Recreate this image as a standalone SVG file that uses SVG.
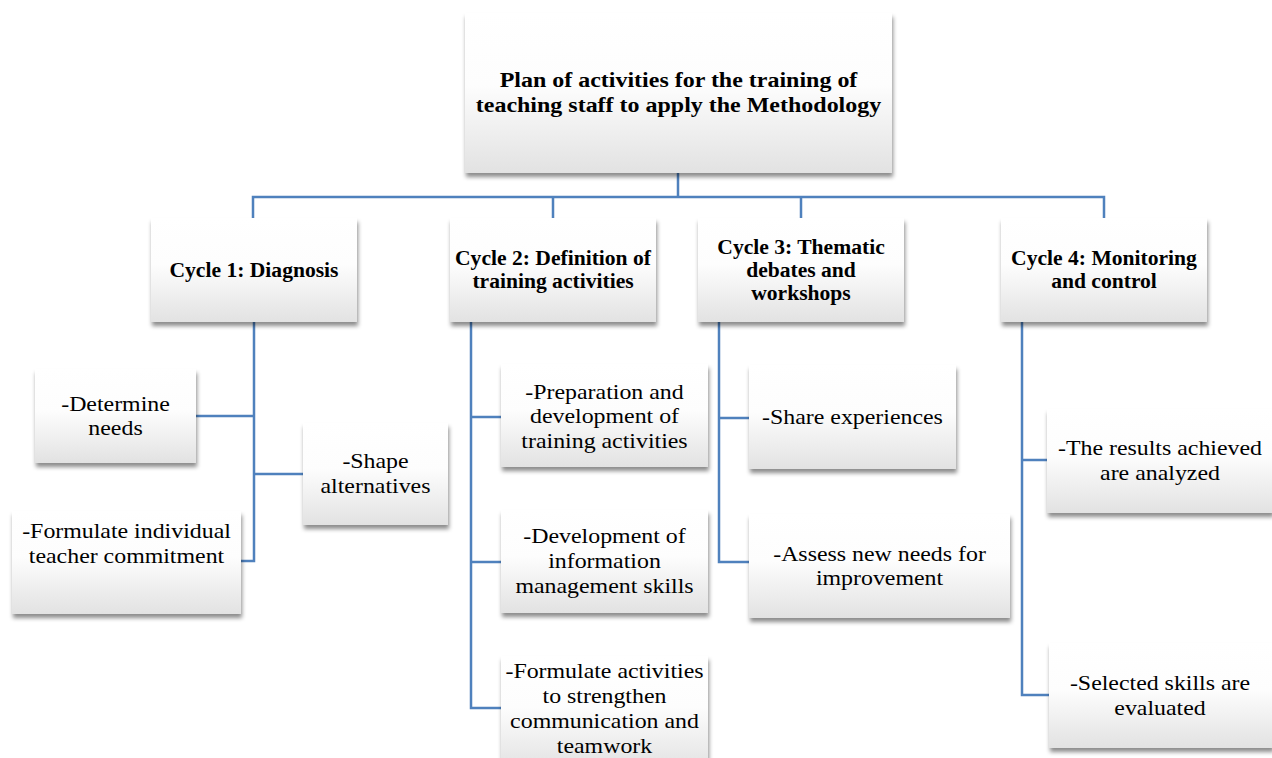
<svg xmlns="http://www.w3.org/2000/svg" width="1272" height="758" viewBox="0 0 1272 758">
<defs>
<linearGradient id="g" x1="0" y1="0" x2="0" y2="1">
<stop offset="0" stop-color="#ffffff"/>
<stop offset="0.45" stop-color="#fdfdfd"/>
<stop offset="1" stop-color="#e2e2e2"/>
</linearGradient>
<filter id="sh" x="-10%" y="-10%" width="120%" height="130%">
<feDropShadow dx="1" dy="4" stdDeviation="2.2" flood-color="#000" flood-opacity="0.45"/>
</filter>
</defs>
<style>
.box{fill:url(#g);filter:url(#sh)}
text{font-family:'Liberation Serif','Times New Roman',serif;fill:#000;text-anchor:middle}
.t{font-size:22px}
.b{font-size:20px;font-weight:bold}
.h{font-size:22px;font-weight:bold}
.c{fill:none;stroke:#4f81bd;stroke-width:2.5}
</style>
<rect width="1272" height="758" fill="#fff"/>
<g id="connectors">
<path class="c" d="M678 173V197M253 218V197H1104V218M553 197V218M801 197V218"/>
<path class="c" d="M254 322V561H241M196 416H254M254 474H303"/>
<path class="c" d="M471 322V708H501M471 417H501M471 562H501"/>
<path class="c" d="M719 322V562H749M719 418H749"/>
<path class="c" d="M1022 322V695H1049M1022 460H1047"/>
</g>
<g id="root"><rect class="box" x="465" y="13" width="427" height="160"/>
<g transform="translate(678.5 0) scale(1.09 1)">
<text class="h" x="0" y="87">Plan of activities for the training of</text>
<text class="h" x="0" y="112">teaching staff to apply the Methodology</text></g></g>
<g id="cycle1"><rect class="box" x="151" y="218" width="206" height="104"/>
<g transform="translate(254 0) scale(1.08 1)">
<text class="b" x="0" y="277">Cycle 1: Diagnosis</text></g></g>
<g id="cycle2"><rect class="box" x="450" y="218" width="206" height="104"/>
<g transform="translate(553 0) scale(1.08 1)">
<text class="b" x="0" y="265">Cycle 2: Definition of</text>
<text class="b" x="0" y="288">training activities</text></g></g>
<g id="cycle3"><rect class="box" x="698" y="218" width="206" height="104"/>
<g transform="translate(801 0) scale(1.08 1)">
<text class="b" x="0" y="254">Cycle 3: Thematic</text>
<text class="b" x="0" y="277">debates and</text>
<text class="b" x="0" y="300">workshops</text></g></g>
<g id="cycle4"><rect class="box" x="1001" y="218" width="206" height="104"/>
<g transform="translate(1104 0) scale(1.08 1)">
<text class="b" x="0" y="265">Cycle 4: Monitoring</text>
<text class="b" x="0" y="288">and control</text></g></g>
<g id="determine"><rect class="box" x="35" y="369" width="161" height="94"/>
<g transform="translate(115.5 0) scale(1.085 1)">
<text class="t" x="0" y="411">-Determine</text>
<text class="t" x="0" y="435">needs</text></g></g>
<g id="shape"><rect class="box" x="303" y="423" width="145" height="102"/>
<g transform="translate(375.5 0) scale(1.085 1)">
<text class="t" x="0" y="468">-Shape</text>
<text class="t" x="0" y="493">alternatives</text></g></g>
<g id="formulate1"><rect class="box" x="12" y="511" width="229" height="103"/>
<g transform="translate(126.5 0) scale(1.085 1)">
<text class="t" x="0" y="538">-Formulate individual</text>
<text class="t" x="0" y="563">teacher commitment</text></g></g>
<g id="prep"><rect class="box" x="501" y="364" width="207" height="103"/>
<g transform="translate(604.5 0) scale(1.085 1)">
<text class="t" x="0" y="399">-Preparation and</text>
<text class="t" x="0" y="423">development of</text>
<text class="t" x="0" y="448">training activities</text></g></g>
<g id="devel"><rect class="box" x="501" y="510" width="207" height="103"/>
<g transform="translate(604.5 0) scale(1.085 1)">
<text class="t" x="0" y="543">-Development of</text>
<text class="t" x="0" y="568">information</text>
<text class="t" x="0" y="593">management skills</text></g></g>
<g id="formulate2"><rect class="box" x="501" y="656" width="207" height="114"/>
<g transform="translate(604.5 0) scale(1.085 1)">
<text class="t" x="0" y="678">-Formulate activities</text>
<text class="t" x="0" y="703">to strengthen</text>
<text class="t" x="0" y="728">communication and</text>
<text class="t" x="0" y="753">teamwork</text></g></g>
<g id="share"><rect class="box" x="749" y="365" width="207" height="104"/>
<g transform="translate(852.5 0) scale(1.085 1)">
<text class="t" x="0" y="424">-Share experiences</text></g></g>
<g id="assess"><rect class="box" x="749" y="514" width="261" height="104"/>
<g transform="translate(879.5 0) scale(1.085 1)">
<text class="t" x="0" y="561">-Assess new needs for</text>
<text class="t" x="0" y="585">improvement</text></g></g>
<g id="results"><rect class="box" x="1047" y="409" width="226" height="104"/>
<g transform="translate(1160 0) scale(1.085 1)">
<text class="t" x="0" y="455">-The results achieved</text>
<text class="t" x="0" y="480">are analyzed</text></g></g>
<g id="selected"><rect class="box" x="1049" y="643" width="224" height="105"/>
<g transform="translate(1160 0) scale(1.085 1)">
<text class="t" x="0" y="690">-Selected skills are</text>
<text class="t" x="0" y="715">evaluated</text></g></g>
</svg>
